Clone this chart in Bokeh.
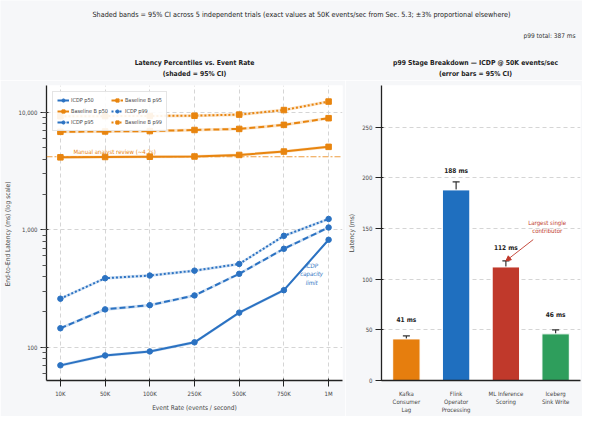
from bokeh.plotting import figure
from bokeh.layouts import column, row
from bokeh.models import (ColumnDataSource, FactorRange, Range1d, Span, Legend, LegendItem,
                          NumeralTickFormatter, Whisker, TeeHead, Arrow, NormalHead)
from bokeh.core.properties import value
from bokeh.embed import file_html
from bokeh.resources import INLINE

FONT = "'Liberation Sans Narrow', 'DejaVu Sans Condensed', sans-serif"
BORDER = "#f6f7f9"

# ---------------- data ----------------
rates = ["10K", "50K", "100K", "250K", "500K", "750K", "1M"]
icdp_p50 = [70, 85, 92, 110, 197, 306, 823]
icdp_p95 = [145, 210, 228, 276, 422, 690, 1048]
icdp_p99 = [259, 387, 408, 449, 512, 889, 1239]
base_p50 = [4150, 4180, 4200, 4220, 4350, 4650, 5100]
base_p95 = [6850, 6900, 6950, 7100, 7250, 7850, 8950]
base_p99 = [9300, 9320, 9350, 9400, 9600, 10500, 12400]
ci_frac = 0.03
threshold_ms = 4200

stages = ["Kafka\nConsumer\nLag", "Flink\nOperator\nProcessing", "ML Inference\nScoring", "Iceberg\nSink Write"]
stage_p99 = [41, 188, 112, 46]
stage_ci = [3, 8, 6, 4]
stage_colors = ["#e67e0e", "#1f6fbf", "#c0392b", "#2e9e5c"]

BLUE = "#2b72c2"
ORANGE = "#e8850f"

# ---------------- header ----------------
hdr = figure(width=582, height=80, x_range=Range1d(0, 582), y_range=Range1d(0, 80),
             output_backend="svg", toolbar_location=None, min_border=0,
             border_fill_color=BORDER, background_fill_color=BORDER, outline_line_color=None)
hdr.axis.visible = False
hdr.grid.visible = False
hdr.text(x=[302], y=[66], text=["Shaded bands = 95% CI across 5 independent trials  (exact values at 50K events/sec from Sec. 5.3; \u00b13% proportional elsewhere)"],
         text_font=value(FONT), text_font_size="7.2px", text_align="center", text_baseline="middle", text_color="#222")
hdr.text(x=[575], y=[45], text=["p99 total: %d ms" % sum(stage_p99)],
         text_font=value(FONT), text_font_size="6.5px", text_align="right", text_baseline="middle", text_color="#333")
hdr.text(x=[194, 194], y=[18, 7], text=["Latency Percentiles vs. Event Rate", "(shaded = 95% CI)"],
         text_font=value(FONT), text_font_size="6.8px", text_align="center", text_baseline="middle",
         text_color="#222", text_font_style="bold")
hdr.text(x=[475, 475], y=[18, 7], text=["p99 Stage Breakdown \u2014 ICDP @ 50K events/sec", "(error bars = 95% CI)"],
         text_font=value(FONT), text_font_size="6.8px", text_align="center", text_baseline="middle",
         text_color="#222", text_font_style="bold")

# ---------------- left plot ----------------
left = figure(width=345, height=336, x_range=FactorRange(*rates, range_padding=-0.054),
              y_axis_type="log", y_range=Range1d(52, 17000),
              output_backend="svg", toolbar_location=None,
              min_border_left=46, min_border_right=3, min_border_top=5, min_border_bottom=35,
              border_fill_color=BORDER, background_fill_color="white", outline_line_color=None)

series = [
    ("ICDP p50", icdp_p50, BLUE, "solid", "circle"),
    ("Baseline B p50", base_p50, ORANGE, "solid", "square"),
    ("ICDP p95", icdp_p95, BLUE, "6 3", "circle"),
    ("Baseline B p95", base_p95, ORANGE, "6 3", "square"),
    ("ICDP p99", icdp_p99, BLUE, "2 2", "circle"),
    ("Baseline B p99", base_p99, ORANGE, "2 2", "square"),
]
items = []
for name, vals, col, dash, mk in series:
    lo = [v * (1 - ci_frac) for v in vals]
    hi = [v * (1 + ci_frac) for v in vals]
    left.varea(x=rates, y1=lo, y2=hi, fill_color=col, fill_alpha=0.22)
    ln = left.line(x=rates, y=vals, line_color=col, line_width=2, line_dash=dash)
    sc = left.scatter(x=rates, y=vals, marker=mk, size=5.5, fill_color=col, line_color=col)
    items.append(LegendItem(label=name, renderers=[ln, sc]))

left.add_layout(Span(location=threshold_ms, dimension="width", line_color=ORANGE,
                     line_dash="6 2 2 2", line_width=1.2, line_alpha=0.8))
left.text(x=[rates[0]], y=[threshold_ms], text=["Manual analyst review (~4.2s)"], x_offset=13, y_offset=-2,
          text_font=value(FONT), text_font_size="6px", text_color=ORANGE, text_baseline="bottom")
left.text(x=[rates[-1]], y=[icdp_p50[-1]], text=["ICDP\ncapacity\nlimit"], x_offset=-17, y_offset=22,
          text_font=value(FONT), text_font_size="6px", text_color=BLUE, text_align="center",
          text_baseline="top", text_font_style="italic")

leg = Legend(items=items, location="top_left", ncols=2, label_text_font=FONT,
             label_text_font_size="5.5px", label_height=8, label_standoff=2, glyph_width=12, glyph_height=8,
             spacing=3, padding=4, margin=6, border_line_color="#cccccc", background_fill_alpha=0.9)
left.add_layout(leg)

left.yaxis[0].formatter = NumeralTickFormatter(format="0,0")
left.xaxis.axis_label = "Event Rate (events / second)"
left.yaxis.axis_label = "End-to-End Latency (ms)  (log scale)"
for ax in left.axis:
    ax.axis_label_text_font = FONT
    ax.axis_label_text_font_size = "6.5px"
    ax.axis_label_text_font_style = "normal"
    ax.major_label_text_font = FONT
    ax.major_label_text_font_size = "6px"
    ax.axis_line_color = "#222"
    ax.axis_line_width = 1.3
    ax.major_tick_line_color = "#222"
    ax.minor_tick_line_color = "#555"
    ax.axis_label_standoff = 4
    ax.major_label_standoff = 3
left.grid.grid_line_dash = "4 3"
left.grid.grid_line_color = "#d5d5d5"
left.ygrid.minor_grid_line_color = None

# ---------------- right plot ----------------
right = figure(width=237, height=336, x_range=FactorRange(*stages), y_range=Range1d(0, 291),
               output_backend="svg", toolbar_location=None,
               min_border_left=25, min_border_right=2, min_border_top=5, min_border_bottom=35,
               border_fill_color=BORDER, background_fill_color="white", outline_line_color=None)
src = ColumnDataSource(dict(stage=stages, val=stage_p99,
                            upper=[v + c for v, c in zip(stage_p99, stage_ci)],
                            lower=[v - c for v, c in zip(stage_p99, stage_ci)],
                            color=stage_colors,
                            label=["%d ms" % v for v in stage_p99]))
right.vbar(x="stage", top="val", width=0.55, fill_color="color", line_color="white", line_width=1, source=src)
wh = Whisker(source=src, base="stage", upper="upper", lower="lower", line_color="#333", line_width=1.2)
wh.upper_head = TeeHead(size=7, line_color="#333", line_width=1.2)
wh.lower_head = TeeHead(size=7, line_color="#333", line_width=1.2)
right.add_layout(wh)
right.text(x="stage", y="val", text="label", source=src, y_offset=-19,
           text_font=value(FONT), text_font_size="6.5px", text_font_style="bold",
           text_align="center", text_baseline="middle", text_color="#222")

# annotation for the largest contributor (ML inference stage)
ml_i = 2
right.add_layout(Arrow(end=NormalHead(size=5, fill_color="#c0392b", line_color="#c0392b"),
                       x_start=3.05, y_start=139, x_end=ml_i + 0.5,
                       y_end=stage_p99[ml_i] + stage_ci[ml_i],
                       line_color="#c0392b", line_width=0.9))
right.text(x=[3.33], y=[152], text=["Largest single\ncontributor"], text_font=value(FONT),
           text_font_size="6px", text_color="#c0392b", text_align="center", text_baseline="middle")

right.yaxis.axis_label = "Latency (ms)"
right.yaxis.ticker = [0, 50, 100, 150, 200, 250]
for ax in right.axis:
    ax.axis_label_text_font = FONT
    ax.axis_label_text_font_size = "6.5px"
    ax.axis_label_text_font_style = "normal"
    ax.major_label_text_font = FONT
    ax.major_label_text_font_size = "6px"
    ax.axis_line_color = "#222"
    ax.axis_line_width = 1.3
    ax.major_tick_line_color = "#222"
    ax.axis_label_standoff = 3
    ax.major_label_standoff = 3
right.xaxis.major_tick_line_color = None
right.xgrid.visible = False
right.ygrid.grid_line_dash = "4 3"
right.ygrid.grid_line_color = "#d5d5d5"

layout = column(hdr, row(left, right))
open("out.html", "w").write(file_html(layout, INLINE))
